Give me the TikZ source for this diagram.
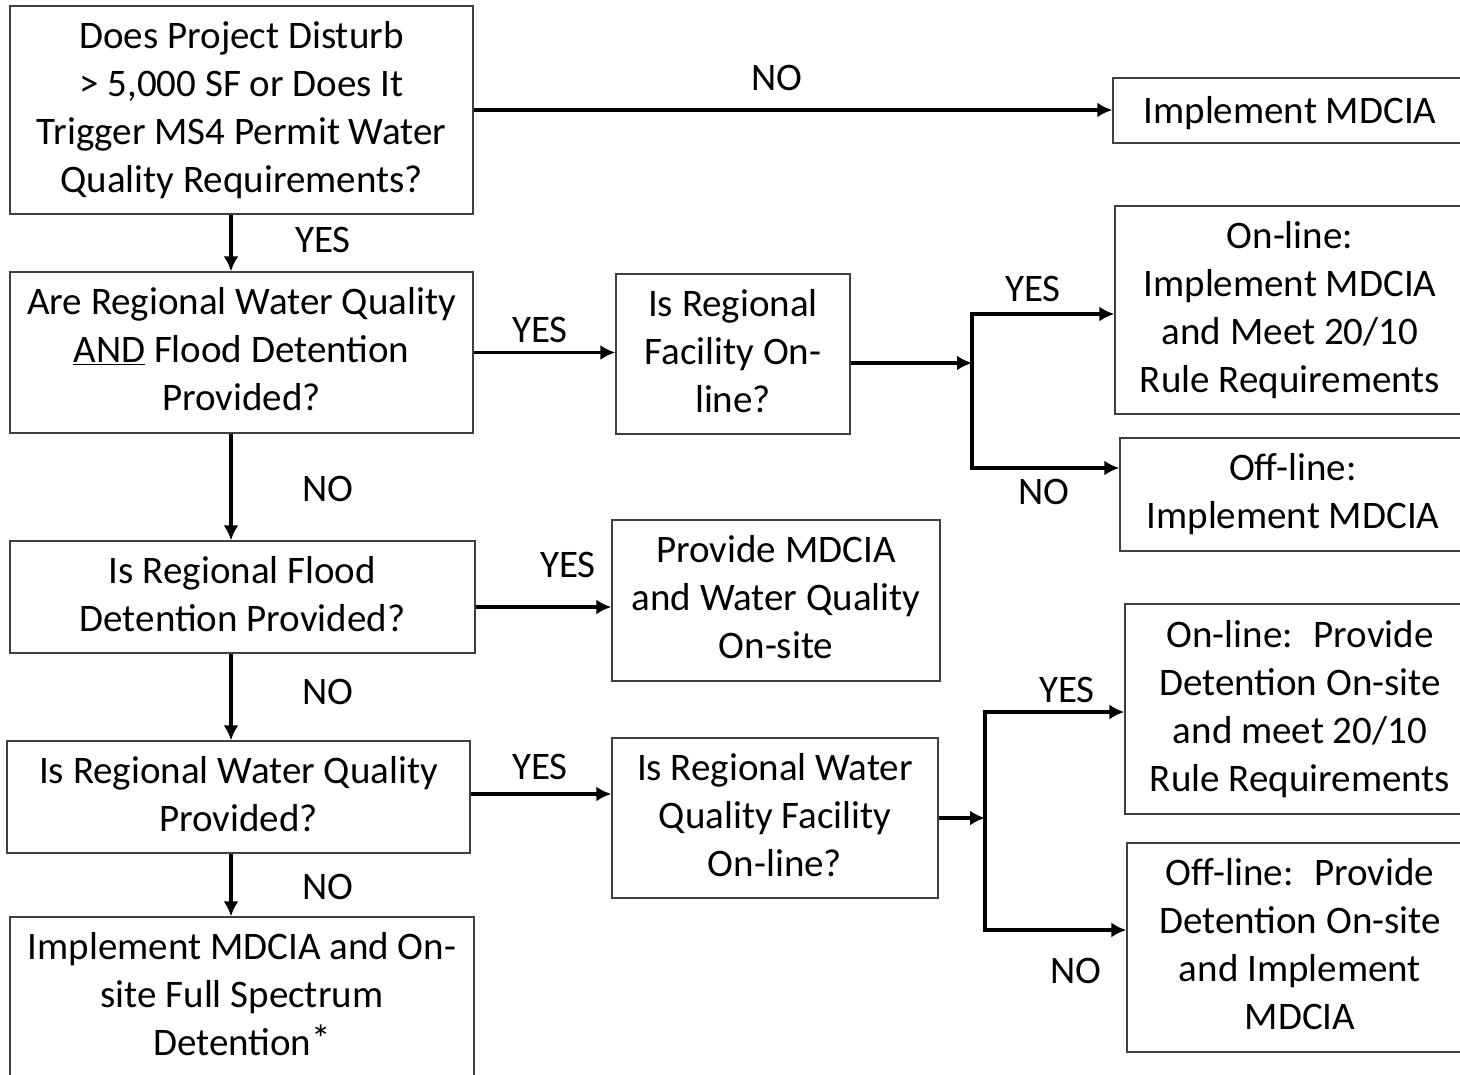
\documentclass[tikz,border=0pt]{standalone}
\usepackage{fontspec}
\setmainfont{Carlito}
\usetikzlibrary{arrows.meta,positioning,calc}
\newcommand\linestrut{\rule[-0.178em]{0pt}{1em}}

\begin{document}
\begin{tikzpicture}[x=1pt, y=-1pt,
        font=\fontsize{39}{48}\selectfont,
        box/.style={draw=black!75, line width=1.3pt, align=center, inner sep=0pt,
            execute at begin node=\linestrut, execute at end node=\linestrut},
        arr/.style={line width=3.8pt, -{Latex[length=15pt,width=15pt]}},
        bar/.style={line width=4.5pt, line cap=rect},
        lbl/.style={inner sep=0pt}]
	\useasboundingbox (0,0) rectangle (1460,1075);
	% left column
	\node[box, minimum width=463pt, minimum height=208pt] (disturb) at (241.5,110) {Does Project Disturb\\> 5,000 SF or Does It\\Trigger MS4 Permit Water\\Quality Requirements?};
	\node[box, minimum width=463pt, minimum height=161pt] (both) at (241.5,352.5) {Are Regional Water Quality\\\underline{AND} Flood Detention\\Provided?};
	\node[box, minimum width=465pt, minimum height=112pt] (flood) at (242.5,597) {Is Regional Flood\\Detention Provided?};
	\node[box, minimum width=463pt, minimum height=112pt] (quality) at (238.5,797) {Is Regional Water Quality\\Provided?};
	\node[box, minimum width=464pt, minimum height=160pt] (fullspec) at (242,997) {Implement MDCIA and On-\\site Full Spectrum\\Detention\raisebox{0.07em}{*}};
	% middle column
	\node[box, minimum width=234pt, minimum height=160pt] (online1) at (733,354) {Is Regional\\Facility On-\\line?};
	\node[box, minimum width=328pt, minimum height=161pt] (onsite) at (776,600.5) {Provide MDCIA\\and Water Quality\\On-site};
	\node[box, minimum width=326pt, minimum height=160pt] (online2) at (775,818) {Is Regional Water\\Quality Facility\\On-line?};
	% right column
	\node[box, minimum width=354pt, minimum height=65pt] (mdcia) at (1290,110.5) {Implement MDCIA};
	\node[box, minimum width=350pt, minimum height=208pt] (impl1) at (1290,310) {On-line:\\Implement MDCIA\\and Meet 20/10\\Rule Requirements};
	\node[box, minimum width=346pt, minimum height=113pt] (offline1) at (1293,494.5) {Off-line:\\Implement MDCIA};
	\node[box, minimum width=350pt, minimum height=210pt] (impl2) at (1300,709) {On-line:~ Provide\\Detention On-site\\and meet 20/10\\Rule Requirements};
	\node[box, minimum width=346pt, minimum height=209pt] (offline2) at (1300,947.5) {Off-line:~ Provide\\Detention On-site\\and Implement\\MDCIA};

	% branch points
	\coordinate (spine) at (231,0);
	\coordinate (split1) at (972,363);
	\coordinate (up1) at (972,314);
	\coordinate (down1) at (972,468);
	\coordinate (split2) at (985,818);
	\coordinate (up2) at (985,712);
	\coordinate (down2) at (985,930);

	% connectors
	\draw[arr] (disturb.east) -- (disturb.east -| mdcia.west);
	\draw[arr] (disturb.south -| spine) -- (both.north -| spine);
	\draw[arr] (both.south -| spine) -- (flood.north -| spine);
	\draw[arr] (flood.south -| spine) -- (quality.north -| spine);
	\draw[arr] (quality.south -| spine) -- (fullspec.north -| spine);
	\draw[arr] (both.east) -- (both.east -| online1.west);
	\draw[arr] ([yshift=-10pt]flood.east) -- ([yshift=-10pt]flood.east -| onsite.west);
	\draw[arr] ([yshift=3pt]quality.east) -- ([yshift=3pt]quality.east -| online2.west);
	\draw[arr] (online1.east |- split1) -- (split1);
	\draw[bar] (up1) -- (down1);
	\draw[arr] (up1) -- (up1 -| impl1.west);
	\draw[arr] (down1) -- (down1 -| offline1.west);
	\draw[arr] (online2.east |- split2) -- (split2);
	\draw[bar] (up2) -- (down2);
	\draw[arr] (up2) -- (up2 -| impl2.west);
	\draw[arr] (down2) -- (down2 -| offline2.west);

	% labels
	\node[lbl] (no0) at (777,78) {NO};
	\node[lbl] (yes0) at (323,240) {YES};
	\node[lbl] (yes1) at (540,330) {YES};
	\node[lbl] (yes2) at (1033,289) {YES};
	\node[lbl] (no2) at (1044,492) {NO};
	\node[lbl] (no1) at (328,489) {NO};
	\node[lbl] (yes3) at (568,565) {YES};
	\node[lbl] (no3) at (328,692) {NO};
	\node[lbl] (yes4) at (540,767) {YES};
	\node[lbl] (yes5) at (1067,690) {YES};
	\node[lbl] (no5) at (1076,971) {NO};
	\node[lbl] (no4) at (328,887) {NO};
\end{tikzpicture}
\end{document}
